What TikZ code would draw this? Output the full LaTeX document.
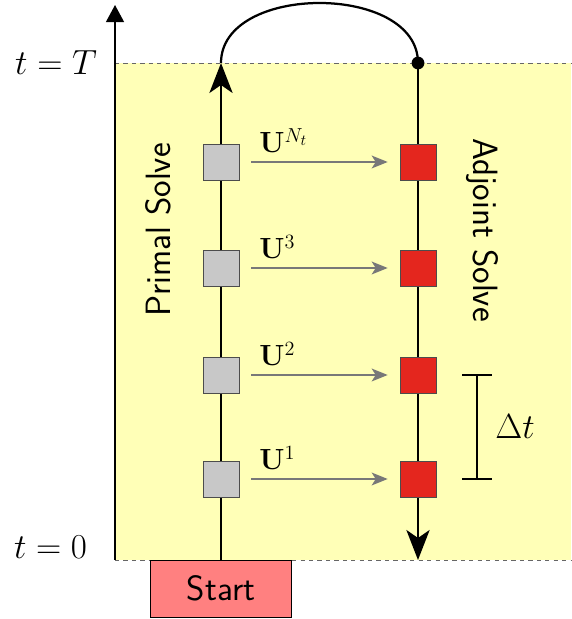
\documentclass[tikz,border=0pt]{standalone}
\usepackage{amsmath,amssymb}
\usepackage{tikz}
\usepackage{xcolor}
\usetikzlibrary{arrows.meta,calc,positioning}
\definecolor{timeband}{RGB}{255,255,183}
\definecolor{primalgray}{RGB}{200,200,200}
\definecolor{adjointred}{RGB}{228,38,30}
\definecolor{startred}{RGB}{255,128,128}
\definecolor{flowgray}{RGB}{120,120,120}

\tikzset{
  stepbox/.style={draw=black!70, minimum size=0.9cm, inner sep=0pt},
  primalbox/.style={stepbox, fill=primalgray},
  adjointbox/.style={stepbox, fill=adjointred},
  flow/.style={draw=flowgray, line width=1.3pt, -{Stealth[length=4mm,width=3.2mm,inset=1mm]},
    shorten <=0.3cm, shorten >=0.3cm},
  ulabel/.style={font=\fontsize{21}{25}\selectfont, inner sep=0pt},
  solve/.style={line width=1.6pt},
  bigtip/.style={-{Stealth[length=7.5mm,width=5.8mm,inset=2mm]}},
}

\begin{document}
\begin{tikzpicture}
    \useasboundingbox (0,0) rectangle (14.275,15.475);

    % Time band
    \fill[timeband] (2.875,1.475) rectangle (14.275,13.9);
    \draw[dashed, black!60] (2.875,13.9) -- (14.275,13.9);
    \draw[dashed, black!60] (2.875,1.475) -- (14.275,1.475);

    % Time axis
    \draw[line width=1.3pt, -{Triangle[length=4.3mm,width=4.5mm]}] (2.875,1.475) -- (2.875,15.35);
    \node[anchor=east, font=\fontsize{26}{31}\selectfont] (tT) at (2.55,13.9) {$t=T$};
    \node[anchor=east, font=\fontsize{26}{31}\selectfont] (t0) at (2.3,1.8) {$t=0$};

    % Start box
    \node[draw, fill=startred, minimum width=3.525cm, minimum height=1.425cm,
          anchor=north, font=\fontsize{25}{30}\selectfont\sffamily] (start) at (5.525,1.475) {Start};

    \coordinate (primtop) at (5.525,13.9);
    \coordinate (adjtop) at (10.45,13.9);
    \coordinate (adjend) at (10.45,1.475);

    % Primal and adjoint sweeps
    \draw[solve, bigtip] (start.north) -- (primtop);
    \draw[solve] (primtop) .. controls +(0,2) and +(0,2) .. (adjtop);
    \draw[solve, bigtip] (adjtop) -- (adjend);
    \fill (adjtop) circle [radius=0.16];

    % Time steps
    \foreach \i/\y/\lab in {1/3.5/1, 2/6.1/2, 3/8.775/3, 4/11.425/N_t} {
        \node[primalbox] (g\i) at (5.525,\y) {};
        \node[adjointbox] (r\i) at (10.45,\y) {};
        \draw[flow] (g\i) -- (r\i)
            node[ulabel, pos=0.12, anchor=south west, yshift=6pt] (u\i) {$\mathbf{U}^{\lab}$};
    }

    % Labels
    \node[rotate=90, font=\fontsize{25}{30}\selectfont\sffamily] (prim) at (3.95,9.725) {Primal Solve};
    \node[rotate=-90, font=\fontsize{25}{30}\selectfont\sffamily] (adj) at (12.05,9.725) {Adjoint Solve};

    % Step size
    \coordinate (dtlo) at (11.925,3.5);
    \coordinate (dthi) at (11.925,6.1);
    \draw[line width=0.8pt] (dtlo) -- (dthi);
    \draw[line width=0.8pt] ($(dtlo)+(-0.375,0)$) -- ($(dtlo)+(0.375,0)$);
    \draw[line width=0.8pt] ($(dthi)+(-0.375,0)$) -- ($(dthi)+(0.375,0)$);
    \node[font=\fontsize{23}{27}\selectfont] (dt) at (12.875,4.8) {$\Delta t$};
\end{tikzpicture}
\end{document}
